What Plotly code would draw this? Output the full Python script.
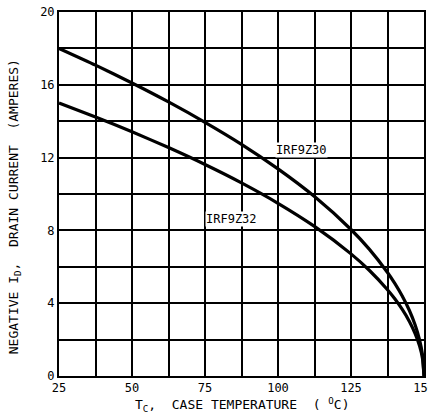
import plotly.graph_objects as go

# Case temperature (deg C)
temp_c = [25, 37.5, 50, 62.5, 75, 87.5, 100, 112.5, 125, 131.25, 137.5,
          140, 142.5, 145, 147, 148.5, 149.5, 150]
# Drain current (A)
irf9z30 = [18.0, 17.08, 16.10, 15.06, 13.94, 12.73, 11.38, 9.86, 8.05, 6.97,
           5.69, 5.09, 4.41, 3.6, 2.79, 1.97, 1.14, 0.0]
irf9z32 = [15.0, 14.23, 13.42, 12.55, 11.62, 10.61, 9.49, 8.22, 6.71, 5.81,
           4.74, 4.24, 3.67, 3.0, 2.32, 1.64, 0.95, 0.0]

x_ticks = [25, 50, 75, 100, 125, 150]
y_ticks = [0, 4, 8, 12, 16, 20]

series_labels = ["IRF9Z30", "IRF9Z32"]
label_pos = [(108, 12.4), (84.2, 8.6)]

FONT = "DejaVu Sans Mono"

fig = go.Figure()
for ys, name in zip([irf9z30, irf9z32], series_labels):
    fig.add_trace(go.Scatter(x=temp_c, y=ys, mode="lines", name=name,
                             line=dict(color="black", width=3.2, shape="spline",
                                       smoothing=0.6),
                             showlegend=False, hoverinfo="skip"))

for name, (lx, ly) in zip(series_labels, label_pos):
    fig.add_annotation(x=lx, y=ly, text=name, showarrow=False,
                       font=dict(family=FONT, size=12, color="black"),
                       bgcolor="white", borderpad=0)

fig.add_annotation(xref="paper", yref="paper", x=0.5, y=-0.08,
                   text="T<sub>C</sub>,  CASE TEMPERATURE  ( <sup>O</sup>C)",
                   showarrow=False, yanchor="middle",
                   font=dict(family=FONT, size=13, color="black"))
fig.add_annotation(xref="paper", yref="paper", x=-0.123, y=0.464,
                   text="NEGATIVE I<sub>D</sub>,  DRAIN CURRENT  (AMPERES)",
                   textangle=-90, showarrow=False, xanchor="center",
                   yanchor="middle",
                   font=dict(family=FONT, size=13, color="black"))

axis_common = dict(showgrid=True, gridcolor="black", gridwidth=1.6,
                   automargin=False, showline=True, mirror=True,
                   linecolor="black", linewidth=2, zeroline=False, ticks="",
                   ticklabeloverflow="allow",
                   tickfont=dict(family=FONT, size=12, color="black"))

fig.update_layout(
    width=428, height=418,
    margin=dict(l=59, r=4, t=12, b=42, autoexpand=False),
    paper_bgcolor="white", plot_bgcolor="white",
    xaxis=dict(range=[25, 150], tickvals=x_ticks,
               minor=dict(dtick=12.5, tick0=25, showgrid=True,
                          gridcolor="black", gridwidth=1.6),
               **axis_common),
    yaxis=dict(range=[0, 20], tickvals=y_ticks,
               minor=dict(dtick=2, tick0=0, showgrid=True,
                          gridcolor="black", gridwidth=1.6),
               **axis_common),
)

fig.write_html(
    "out.html",
    config={"displayModeBar": False},
    post_script=("document.body.style.margin='0';"
                 "document.body.style.overflow='hidden';"
                 "document.documentElement.style.overflow='hidden';"),
)
